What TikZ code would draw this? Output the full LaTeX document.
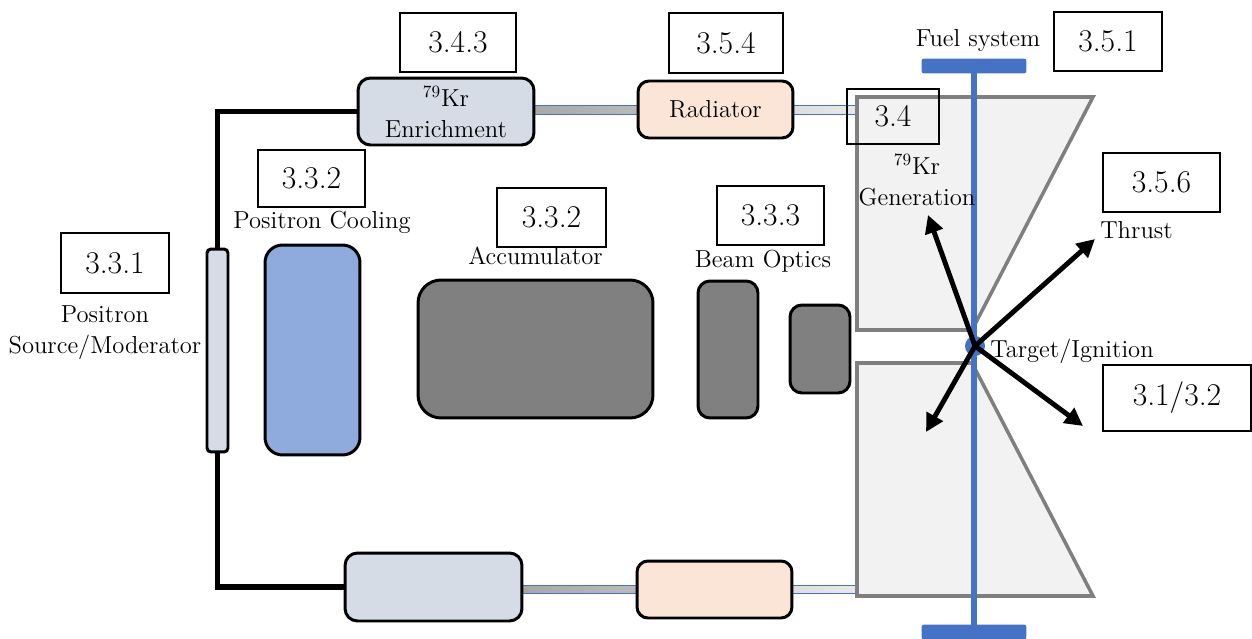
\documentclass[tikz,border=0pt]{standalone}
\usepackage{tikz}
\usetikzlibrary{positioning}
\usetikzlibrary{arrows.meta}
\usetikzlibrary{backgrounds}

\definecolor{krgray}{HTML}{D6DCE5}
\definecolor{radpeach}{HTML}{FBE5D6}
\definecolor{coolblue}{HTML}{8FAADC}
\definecolor{accgray}{HTML}{808080}
\definecolor{fuelblue}{HTML}{4472C4}
\definecolor{chamberfill}{HTML}{F2F2F2}
\definecolor{chamberedge}{HTML}{7F7F7F}

\tikzset{
  numbox/.style={draw, line width=0.8pt, inner sep=0pt, font=\fontsize{18}{21}\selectfont},
  unit/.style={draw, line width=1.7pt, inner sep=0pt, align=center, font=\fontsize{14}{17.6}\selectfont},
  txt/.style={inner sep=0pt, align=center, font=\fontsize{14}{17.6}\selectfont},
  blackpipe/.style={line width=3.4pt, black},
  pipe/.style={draw=fuelblue, line width=0.4pt},
  chamber/.style={draw=chamberedge, fill=chamberfill, line width=2pt},
  fuelbar/.style={fill=fuelblue, rounded corners=1.5pt, inner sep=0pt, minimum width=2.1cm, minimum height=0.3cm},
  jet/.style={line width=2.8pt, -{Triangle[length=0.36cm,width=0.36cm]}}
}

\begin{document}
\begin{tikzpicture}[x=0.02cm, y=-0.02cm]
\useasboundingbox (0,0) rectangle (1252,639);

\draw[chamber] (857,97) -- (1093,97) -- (972,330) -- (857,330) -- cycle;
\draw[chamber] (857,363) -- (972,363) -- (1093,596) -- (857,596) -- cycle;
\coordinate (portT) at (858,110);
\coordinate (portB) at (858,589);

\node[unit, fill=krgray, rounded corners=0.25cm, minimum width=3.52cm, minimum height=1.34cm] (kr) at (446,111.5) {\textsuperscript{79}Kr\\Enrichment};
\node[unit, fill=radpeach, rounded corners=0.22cm, minimum width=3.1cm, minimum height=1.14cm] (rad) at (715.5,109.5) {Radiator};
\node[unit, fill=krgray, rounded corners=0.25cm, minimum width=3.54cm, minimum height=1.36cm] (krb) at (433.5,587) {};
\node[unit, fill=radpeach, rounded corners=0.22cm, minimum width=3.1cm, minimum height=1.14cm] (radb) at (714.5,589.5) {};
\node[unit, fill=krgray, rounded corners=0.08cm, minimum width=0.42cm, minimum height=4.06cm] (src) at (217.5,350.5) {};
\node[unit, fill=coolblue, rounded corners=0.35cm, minimum width=1.9cm, minimum height=4.2cm] (cool) at (312.5,350) {};
\node[unit, fill=accgray, rounded corners=0.46cm, minimum width=4.7cm, minimum height=2.76cm] (acc) at (535.5,349) {};
\node[unit, fill=accgray, rounded corners=0.24cm, minimum width=1.2cm, minimum height=2.74cm] (optA) at (728,349.5) {};
\node[unit, fill=accgray, rounded corners=0.24cm, minimum width=1.2cm, minimum height=1.76cm] (optB) at (820,349) {};

\begin{scope}[on background layer]
\draw[blackpipe] (kr.west) -| (src.north);
\draw[blackpipe] (krb.west) -| (src.south);
\path[pipe, left color=black!40, right color=black!22] ([yshift=0.09cm]rad.center -| kr.center) rectangle ([yshift=-0.09cm]rad.center);
\path[pipe, left color=black!18, right color=black!9] ([yshift=0.09cm]rad.center) rectangle ([yshift=-0.09cm]rad.center -| portT);
\path[pipe, left color=black!40, right color=black!22] ([yshift=0.085cm]radb.center -| krb.center) rectangle ([yshift=-0.085cm]radb.center);
\path[pipe, left color=black!18, right color=black!9] ([yshift=0.085cm]radb.center) rectangle ([yshift=-0.085cm]radb.center -| portB);
\end{scope}

\coordinate (ftop) at (974,66);
\coordinate (fbot) at (974,632);
\draw[fuelblue, line width=3.4pt] (ftop) -- (fbot);
\node[fuelbar] (fueltop) at (ftop) {};
\node[fuelbar] (fuelbot) at (fbot) {};
\node[circle, fill=fuelblue, inner sep=0pt, minimum size=0.4cm] (tgt) at (975,346) {};

\coordinate (genTip) at (928,215);
\coordinate (thrTip) at (1095,239);
\coordinate (dlTip) at (926,432);
\coordinate (drTip) at (1083,426);
\draw[jet] (tgt.center) -- (genTip);
\draw[jet] (tgt.center) -- (thrTip);
\draw[jet] (tgt.center) -- (dlTip);
\draw[jet] (tgt.center) -- (drTip);

\node[txt, anchor=base] (fuellbl) at (978,47) {Fuel system};
\node[txt] (genlbl) at (917,180) {\textsuperscript{79}Kr\\Generation};
\node[txt, anchor=base west] (thrlbl) at (1100,238) {Thrust};
\node[txt, anchor=base west] (tgtlbl) at (990,357) {Target/Ignition};
\node[txt, anchor=base] (coollbl) at (322,228) {Positron Cooling};
\node[txt, above=0.26cm of acc] (acclbl) {Accumulator};
\node[txt, anchor=base] (optlbl) at (763,267) {Beam Optics};
\node[txt] (srclbl) at (105,333) {Positron\\Source/Moderator};

\node[numbox, minimum width=2.32cm, minimum height=1.18cm] (n343) at (458,42.5) {3.4.3};
\node[numbox, minimum width=2.28cm, minimum height=1.2cm] (n354) at (726,43) {3.5.4};
\node[numbox, minimum width=2.16cm, minimum height=1.18cm] (n351) at (1108,41.5) {3.5.1};
\node[numbox, minimum width=1.84cm, minimum height=1.1cm] (n34) at (893,116.5) {3.4};
\node[numbox, minimum width=2.14cm, minimum height=1.14cm] (n332a) at (311.5,178.5) {3.3.2};
\node[numbox, minimum width=2.18cm, minimum height=1.18cm] (n332b) at (551.5,217.5) {3.3.2};
\node[numbox, minimum width=2.14cm, minimum height=1.18cm] (n333) at (770.5,215.5) {3.3.3};
\node[numbox, minimum width=2.34cm, minimum height=1.18cm] (n356) at (1161.5,182.5) {3.5.6};
\node[numbox, minimum width=2.16cm, minimum height=1.2cm] (n331) at (115,263) {3.3.1};
\node[numbox, minimum width=2.96cm, minimum height=1.32cm] (n3132) at (1177,398) {3.1/3.2};
\end{tikzpicture}
\end{document}
